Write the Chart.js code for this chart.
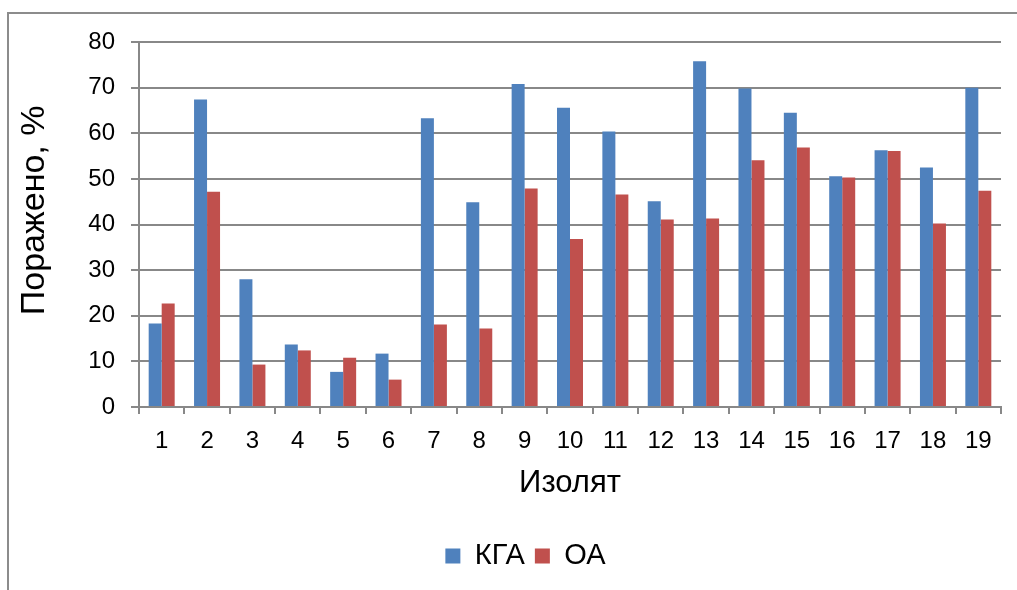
<!DOCTYPE html>
<html>
<head>
<meta charset="utf-8">
<script src="https://cdn.jsdelivr.net/npm/chart.js@4/dist/chart.umd.min.js"></script>
<style>
  body { margin: 0; background: #fff; }
  canvas { display: block; }
</style>
</head>
<body>
<canvas id="isolateChart" width="1017" height="590"></canvas>
<script>
const isolates = ['1', '2', '3', '4', '5', '6', '7', '8', '9', '10',
    '11', '12', '13', '14', '15', '16', '17', '18', '19'];
const kgaValues = [18.3, 67.4, 28.0, 13.7, 7.7, 11.7, 63.3, 44.9, 70.8, 65.6,
    60.4, 45.1, 75.8, 69.8, 64.5, 50.6, 56.3, 52.5, 70.0];
const oaValues = [22.7, 47.2, 9.3, 12.4, 10.8, 6.0, 18.1, 17.2, 47.9, 36.8,
    46.6, 41.1, 41.3, 54.1, 56.9, 50.3, 56.1, 40.2, 47.4];

const fontFamily = "'Liberation Sans', Arial, sans-serif";
const gridColor = '#888888';

// outer frame like the exported chart box
const framePlugin = {
    id: 'frame',
    beforeDraw(chart) {
        const ctx = chart.ctx;
        ctx.save();
        ctx.strokeStyle = '#8c8c8c';
        ctx.lineWidth = 2;
        ctx.strokeRect(8, 13, 1020, 600);
        ctx.restore();
    }
};

const ctx = document.getElementById('isolateChart').getContext('2d');

new Chart(ctx, {
    type: 'bar',
    data: {
        labels: isolates,
        datasets: [{
            label: 'КГА',
            data: kgaValues,
            backgroundColor: '#4F81BD',
            borderWidth: 0,
            categoryPercentage: 0.573,
            barPercentage: 1
        }, {
            label: 'ОА',
            data: oaValues,
            backgroundColor: '#C0504D',
            borderWidth: 0,
            categoryPercentage: 0.573,
            barPercentage: 1
        }]
    },
    options: {
        responsive: false,
        animation: false,
        layout: {
            // left padding pushes the legend centre to the right like the original
            padding: { left: 50, right: 16, top: 42, bottom: 9.5 }
        },
        plugins: {
            legend: {
                position: 'bottom',
                labels: {
                    boxWidth: 15,
                    boxHeight: 15,
                    padding: 10,
                    color: '#000',
                    font: { family: fontFamily, size: 29 }
                }
            },
            tooltip: { enabled: false }
        },
        scales: {
            x: {
                afterFit: (scale) => { scale.height = 124.5; },
                grid: {
                    drawOnChartArea: false,
                    tickLength: 7,
                    color: gridColor,
                    lineWidth: 2
                },
                border: { color: gridColor, width: 2 },
                ticks: {
                    color: '#000',
                    padding: 13,
                    maxRotation: 0,
                    font: { family: fontFamily, size: 24 }
                },
                title: {
                    display: true,
                    text: 'Изолят',
                    color: '#000',
                    padding: { top: 0, bottom: 29 },
                    font: { family: fontFamily, size: 31 }
                }
            },
            y: {
                min: 0,
                max: 80,
                afterFit: (scale) => { scale.width = 89; },
                grid: {
                    tickLength: 8,
                    color: gridColor,
                    lineWidth: 2
                },
                border: { color: gridColor, width: 2 },
                ticks: {
                    stepSize: 10,
                    color: '#000',
                    padding: 16,
                    font: { family: fontFamily, size: 24 }
                },
                title: {
                    display: true,
                    text: '   Поражено, %',
                    color: '#000',
                    padding: { top: -36, bottom: 0 },
                    font: { family: fontFamily, size: 34 }
                }
            }
        }
    },
    plugins: [framePlugin]
});
</script>
</body>
</html>
